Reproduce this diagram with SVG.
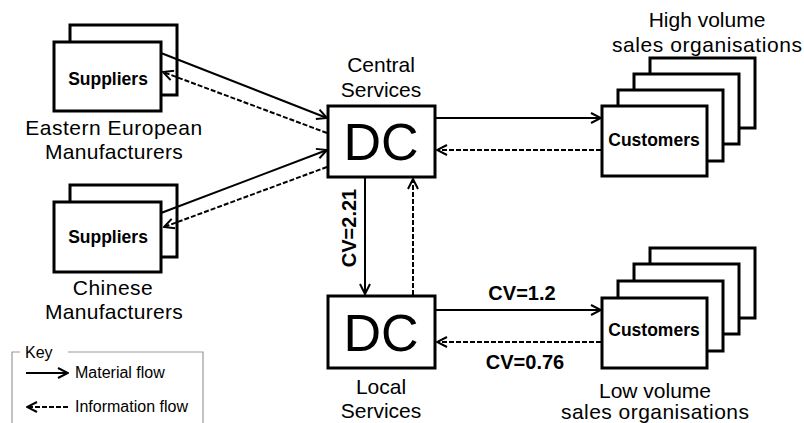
<svg xmlns="http://www.w3.org/2000/svg" width="804" height="423" viewBox="0 0 804 423">
<defs>
<marker id="ah" viewBox="0 0 12 12" refX="11" refY="6" markerWidth="12" markerHeight="12" markerUnits="userSpaceOnUse" orient="auto">
<path d="M1,1 L11,6 L1,11" fill="none" stroke="#000" stroke-width="2"/>
</marker>
</defs>
<style>
.box{fill:#fff;stroke:#000;stroke-width:3}
.lbl{font-family:"Liberation Sans",Arial,sans-serif;font-size:21px;fill:#000;text-anchor:middle}
.bold{font-family:"Liberation Sans",Arial,sans-serif;font-weight:bold;font-size:17.5px;fill:#000;text-anchor:middle}
.cv{font-family:"Liberation Sans",Arial,sans-serif;font-weight:bold;font-size:20px;fill:#000;text-anchor:middle}
.dc{font-family:"Liberation Sans",Arial,sans-serif;font-size:52px;fill:#000;text-anchor:middle}
.mat{fill:none;stroke:#000;stroke-width:2;marker-end:url(#ah)}
.inf{fill:none;stroke:#000;stroke-width:2;stroke-dasharray:5,2;marker-end:url(#ah)}
.key{font-family:"Liberation Sans",Arial,sans-serif;font-size:16px;fill:#000}
</style>
<rect width="804" height="423" fill="#fff"/>

<g id="suppliers-ee">
<rect class="box" x="70" y="25" width="107" height="70"/>
<rect class="box" x="54" y="42" width="107" height="69"/>
<text class="bold" x="108" y="85">Suppliers</text>
<text class="lbl" x="114" y="135" letter-spacing="0.5">Eastern European</text>
<text class="lbl" x="114" y="159" letter-spacing="0.3">Manufacturers</text>
</g>

<g id="suppliers-cn">
<rect class="box" x="70" y="185" width="107" height="72"/>
<rect class="box" x="54" y="202" width="107" height="70"/>
<text class="bold" x="108" y="243">Suppliers</text>
<text class="lbl" x="113" y="295" letter-spacing="0.5">Chinese</text>
<text class="lbl" x="114" y="319" letter-spacing="0.3">Manufacturers</text>
</g>

<g id="dc-central">
<text class="lbl" x="381" y="72">Central</text>
<text class="lbl" x="381" y="97">Services</text>
<rect class="box" x="328" y="106" width="107" height="71"/>
<text class="dc" x="381" y="160">DC</text>
</g>

<g id="dc-local">
<rect class="box" x="328" y="296" width="107" height="72"/>
<text class="dc" x="381" y="351">DC</text>
<text class="lbl" x="381" y="394">Local</text>
<text class="lbl" x="381" y="418">Services</text>
</g>

<g id="customers-high">
<text class="lbl" x="707" y="27">High volume</text>
<text class="lbl" x="707" y="52" textLength="190" lengthAdjust="spacing">sales organisations</text>
<rect class="box" x="650" y="58" width="105" height="70"/>
<rect class="box" x="634" y="74" width="105" height="70"/>
<rect class="box" x="618" y="90" width="105" height="71"/>
<rect class="box" x="602" y="106" width="105" height="70"/>
<text class="bold" x="654" y="146">Customers</text>
</g>

<g id="customers-low">
<rect class="box" x="650" y="248" width="105" height="70"/>
<rect class="box" x="634" y="264" width="105" height="70"/>
<rect class="box" x="618" y="281" width="105" height="70"/>
<rect class="box" x="602" y="298" width="105" height="70"/>
<text class="bold" x="654" y="336">Customers</text>
<text class="lbl" x="655" y="398">Low volume</text>
<text class="lbl" x="655" y="419" font-size="20" textLength="188" lengthAdjust="spacing">sales organisations</text>
</g>

<g id="connectors">
<line class="mat" x1="161" y1="53" x2="327" y2="118"/>
<line class="inf" x1="327" y1="133" x2="163" y2="72"/>
<line class="mat" x1="161" y1="213" x2="327" y2="150"/>
<line class="inf" x1="327" y1="167" x2="164" y2="227"/>
<line class="mat" x1="436" y1="118" x2="601" y2="118"/>
<line class="inf" x1="601" y1="150" x2="437" y2="150"/>
<line class="mat" x1="365" y1="178" x2="365" y2="294"/>
<line class="inf" x1="413" y1="295" x2="413" y2="179"/>
<line class="mat" x1="436" y1="310" x2="601" y2="310"/>
<line class="inf" x1="601" y1="342" x2="437" y2="342"/>
<text class="cv" transform="translate(356,228) rotate(-90)">CV=2.21</text>
<text class="cv" x="522" y="300">CV=1.2</text>
<text class="cv" x="525" y="369">CV=0.76</text>
</g>

<g id="key">
<path d="M20,352 H12 V423 M68,352 H203 V423" fill="none" stroke="#999" stroke-width="1.2"/>
<text class="key" x="25" y="358">Key</text>
<line class="mat" x1="26" y1="373" x2="68" y2="373"/>
<text class="key" x="75" y="378">Material flow</text>
<line class="inf" x1="68" y1="407" x2="27" y2="407"/>
<text class="key" x="75" y="412">Information flow</text>
</g>
</svg>
